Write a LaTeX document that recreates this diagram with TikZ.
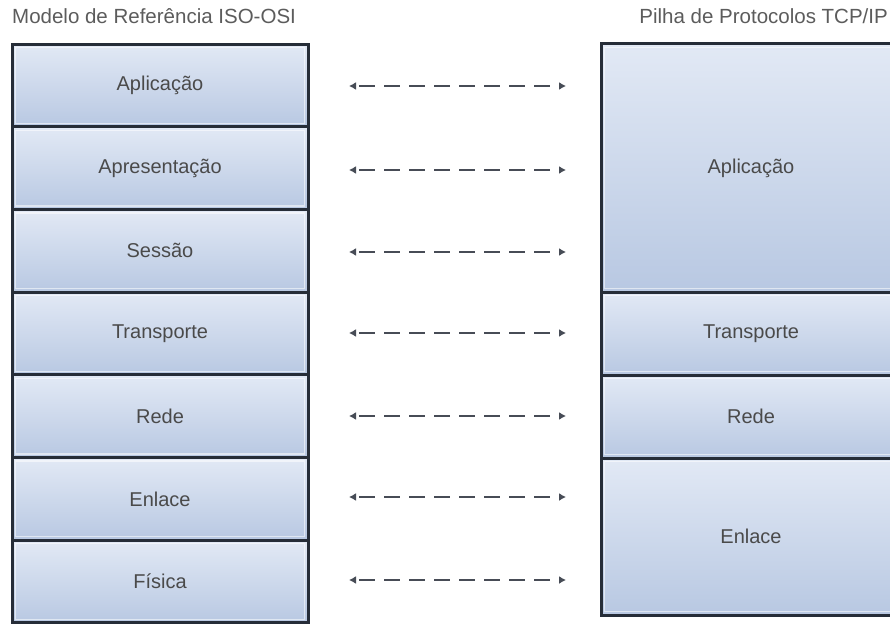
\documentclass[tikz,border=0pt]{standalone}
\usepackage{fontspec}
\setmainfont{Liberation Sans}
\usetikzlibrary{arrows.meta}

\definecolor{edge}{HTML}{262D38}
\definecolor{boxtop}{HTML}{E2E9F5}
\definecolor{boxbot}{HTML}{B8C8E2}
\definecolor{txt}{HTML}{4A4A4A}

\tikzset{
  layer/.style={draw=edge, line width=3pt, top color=boxtop, bottom color=boxbot,
    inner sep=0pt, text=txt, font=\fontsize{20}{24}\selectfont},
  osi/.style={layer, minimum width=296pt, minimum height=82.7pt},
  tcp/.style={layer, minimum width=300pt},
  shine/.style={draw=white, opacity=0.55, line width=1.2pt},
  link/.style={{Latex[length=7pt,width=8pt]}-{Latex[length=7pt,width=8pt]},
    draw=edge!85, line width=1.6pt, dash pattern=on 16pt off 9pt, dash phase=-4pt},
  title/.style={text=txt!90, font=\fontsize{20.5}{24}\selectfont, inner sep=0pt}
}

\begin{document}
\begin{tikzpicture}[x=1pt,y=-1pt]
  \useasboundingbox[fill=white] (0,0) rectangle (890,623);
  \clip (0,0) rectangle (890,623);

  % headings
  \node[title, anchor=west] (osi) at (12,16) {Modelo de Referência ISO-OSI};
  \node[title, anchor=east] (tcp) at (888,16) {Pilha de Protocolos TCP/IP};

  % ISO-OSI column
  \node[osi] (o1) at (160,85.4)  {Aplicação};
  \node[osi] (o2) at (160,168.1) {Apresentação};
  \node[osi] (o3) at (160,250.8) {Sessão};
  \node[osi] (o4) at (160,333.5) {Transporte};
  \node[osi] (o5) at (160,416.2) {Rede};
  \node[osi] (o6) at (160,498.9) {Enlace};
  \node[osi] (o7) at (160,581.6) {Física};

  % TCP/IP column
  \node[tcp, minimum height=248pt] (t1) at (751,168)   {Aplicação};
  \node[tcp, minimum height=83pt]  (t2) at (751,333.5) {Transporte};
  \node[tcp, minimum height=83pt]  (t3) at (751,416.5) {Rede};
  \node[tcp, minimum height=157pt] (t4) at (751,536.5) {Enlace};

  % light inner rim on every box
  \foreach \b in {o1,o2,o3,o4,o5,o6,o7,t1,t2,t3,t4}
    \draw[shine] ([shift={(5,5)}]\b.north west) rectangle ([shift={(-5,-5)}]\b.south east);

  % layer to layer links
  \foreach \i/\y in {1/86,2/170,3/252,4/333,5/416,6/497,7/580} {
    \coordinate (a\i) at (349,\y);
    \coordinate (b\i) at (566,\y);
    \draw[link] (a\i) -- (b\i);
  }
\end{tikzpicture}
\end{document}
